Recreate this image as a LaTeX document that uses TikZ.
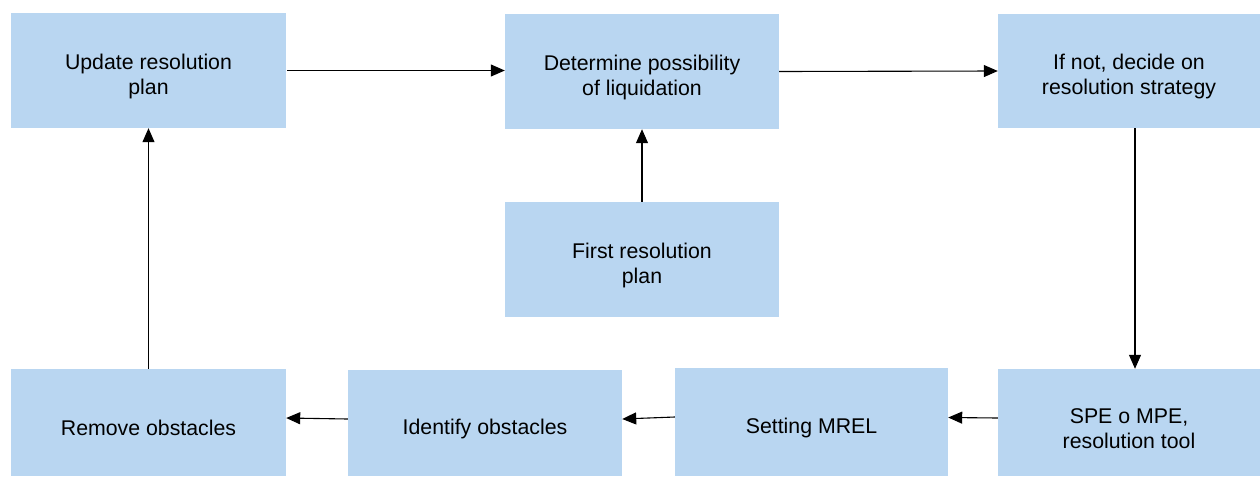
\documentclass[tikz,border=0pt]{standalone}
\usepackage{fontspec}
\setmainfont{Liberation Sans}
\usetikzlibrary{arrows.meta}
\definecolor{boxblue}{HTML}{B9D6F1}
\newcommand\padtop{\rule{0pt}{27pt}}
\tikzset{
	stage/.style={fill=boxblue, draw=none, align=center, font=\fontsize{21.3}{25}\selectfont, inner sep=0pt},
	flow/.style={line width=1.1pt, -{Triangle[length=14pt,width=12pt]}}
}

\begin{document}
\begin{tikzpicture}[x=1pt, y=-1pt]
			%%%%% START %%%%%
			
			\useasboundingbox (0, 0) rectangle (1260, 477);
			
			\node[stage, minimum width=275, minimum height=115] (upd) at (148.5, 70.5) {\padtop Update resolution\\plan};
			\node[stage, minimum width=274, minimum height=115] (det) at (642, 71.5) {\padtop Determine possibility\\of liquidation};
			\node[stage, minimum width=262, minimum height=114] (ifnot) at (1129, 71) {\padtop If not, decide on\\resolution strategy};
			\node[stage, minimum width=274, minimum height=115] (first) at (642, 259.5) {\padtop First resolution\\plan};
			
			\node[stage, minimum width=275, minimum height=107] (rem) at (148.5, 422.5) {\padtop Remove obstacles};
			\node[stage, minimum width=274, minimum height=106] (ident) at (485, 423) {\padtop Identify obstacles};
			\node[stage, minimum width=273, minimum height=108] (mrel) at (811.5, 422) {\padtop Setting MREL};
			\node[stage, minimum width=262, minimum height=107] (spe) at (1129, 422.5) {\padtop SPE o MPE,\\resolution tool};
			
			\draw[flow] ([xshift=1pt]upd.east) -- (det.west |- upd.east);
			\draw[flow] (det.east) -- (ifnot.west);
			\draw[flow] (first.north) -- (det.south);
			\draw[flow] ([xshift=6pt]ifnot.south) -- ([xshift=6pt]spe.north);
			
			\draw[flow] ([yshift=4.5pt]spe.west) -- ([yshift=4.5pt]mrel.east);
			\draw[flow] ([yshift=5pt]mrel.west) -- ([yshift=4pt]ident.east);
			\draw[flow] ([yshift=4pt]ident.west) -- ([yshift=4.5pt]rem.east);
			\draw[flow] (rem.north) -- (upd.south);
			
			%%%%% END %%%%%
		\end{tikzpicture}
\end{document}
